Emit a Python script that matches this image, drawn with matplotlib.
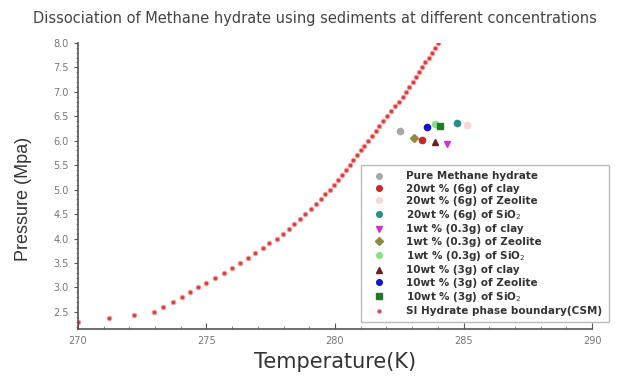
import matplotlib
matplotlib.use("Agg")
import matplotlib.pyplot as plt

# SI hydrate phase boundary (CSM)
boundary_T = [270.0, 271.2, 272.2,
              272.96, 273.33, 273.69, 274.04, 274.37, 274.69, 275.00, 275.35,
              275.70, 276.00, 276.30, 276.60, 276.90, 277.20, 277.45, 277.75,
              277.98, 278.20, 278.42, 278.64, 278.85, 279.05, 279.25, 279.45,
              279.62, 279.79, 279.96, 280.12, 280.28, 280.43, 280.58, 280.72,
              280.86, 281.00, 281.14, 281.29, 281.44, 281.58, 281.73, 281.88,
              282.03, 282.17, 282.35, 282.49, 282.63, 282.76, 282.89, 283.02,
              283.15, 283.28, 283.40, 283.52, 283.64, 283.76, 283.88, 284.00]
boundary_P = [2.30, 2.37, 2.44,
              2.5, 2.6, 2.7, 2.8, 2.9, 3.0, 3.1, 3.2,
              3.3, 3.4, 3.5, 3.6, 3.7, 3.8, 3.9, 4.0,
              4.1, 4.2, 4.3, 4.4, 4.5, 4.6, 4.7, 4.8,
              4.9, 5.0, 5.1, 5.2, 5.3, 5.4, 5.5, 5.6,
              5.7, 5.8, 5.9, 6.0, 6.1, 6.2, 6.3, 6.4,
              6.5, 6.6, 6.7, 6.8, 6.9, 7.0, 7.1, 7.2,
              7.3, 7.4, 7.5, 7.6, 7.7, 7.8, 7.9, 8.0]

# dissociation points of each sample
labels = ["Pure Methane hydrate",
          "20wt % (6g) of clay",
          "20wt % (6g) of Zeolite",
          "20wt % (6g) of SiO$_2$",
          "1wt % (0.3g) of clay",
          "1wt % (0.3g) of Zeolite",
          "1wt % (0.3g) of SiO$_2$",
          "10wt % (3g) of clay",
          "10wt % (3g) of Zeolite",
          "10wt % (3g) of SiO$_2$"]
sample_T = [282.53, 283.37, 285.12, 284.73, 284.35, 283.07, 283.89, 283.89, 283.57, 284.09]
sample_P = [6.19, 6.02, 6.32, 6.37, 5.93, 6.05, 6.34, 5.98, 6.29, 6.31]
colors = ["#a8a8a8", "#c8282c", "#f6d8d4", "#2a8c8c", "#d030d8",
          "#8c8c40", "#88e088", "#6a2020", "#1414c8", "#207a2a"]
markers = ["o", "o", "o", "o", "v", "D", "o", "^", "o", "s"]

fig = plt.figure(figsize=(6.18, 3.76), dpi=100)
ax = fig.add_axes([0.126, 0.125, 0.832, 0.761])

handles = []
for lab, t, p, c, m in zip(labels, sample_T, sample_P, colors, markers):
    h, = ax.plot([t], [p], linestyle="none", marker=m, markersize=4.5,
                 color=c, markeredgecolor=c, label=lab)
    handles.append(h)

hb, = ax.plot(boundary_T, boundary_P, linestyle="none", marker="o", markersize=3.2,
              markerfacecolor="#d23c3c", markeredgecolor="#f29a9a", markeredgewidth=0.8,
              label="SI Hydrate phase boundary(CSM)")
handles.append(hb)

ax.set_xlim(270, 290)
ax.set_ylim(2.15, 8.0)
ax.set_xticks([270, 275, 280, 285, 290])
ax.set_xticks(range(270, 291), minor=True)
ax.set_yticks([2.5, 3.0, 3.5, 4.0, 4.5, 5.0, 5.5, 6.0, 6.5, 7.0, 7.5, 8.0])
ax.set_yticks([2.2 + 0.1 * i for i in range(59)], minor=True)
ax.yaxis.set_major_formatter(matplotlib.ticker.FormatStrFormatter("%.1f"))

for side in ["top", "right"]:
    ax.spines[side].set_visible(False)
for side in ["left", "bottom"]:
    ax.spines[side].set_color("#555555")
    ax.spines[side].set_linewidth(1.2)

ax.tick_params(axis="x", which="major", direction="in", length=4, color="#555555",
               labelsize=7, labelcolor="#777777", pad=5)
ax.tick_params(axis="x", which="minor", direction="in", length=2, color="#777777")
ax.tick_params(axis="y", which="major", direction="out", length=3, color="#555555",
               labelsize=7, labelcolor="#777777")
ax.tick_params(axis="y", which="minor", direction="out", length=1.5, color="#777777")

ax.set_xlabel("Temperature(K)", fontsize=15, color="#333333", family="DejaVu Sans")
ax.xaxis.set_label_coords(0.5, -0.08)
ax.set_ylabel("Pressure (Mpa)", fontsize=13, color="#333333", family="Liberation Sans")
ax.yaxis.set_label_coords(-0.09, 0.455)
fig.suptitle("Dissociation of Methane hydrate using sediments at different concentrations",
             x=0.51, y=0.972, fontsize=10.5, color="#444444", family="DejaVu Sans")

leg = fig.legend(handles=handles, loc="upper left", bbox_to_anchor=(0.575, 0.575),
                 frameon=True, fancybox=False, edgecolor="#bbbbbb", framealpha=1,
                 prop={"family": "DejaVu Sans", "weight": "bold", "size": 7.5},
                 labelspacing=0.22, handletextpad=1.4, borderpad=0.6,
                 markerscale=0.9, handlelength=2.4)
for t in leg.get_texts():
    t.set_color("#333333")

fig.savefig("out.png", dpi=100)
